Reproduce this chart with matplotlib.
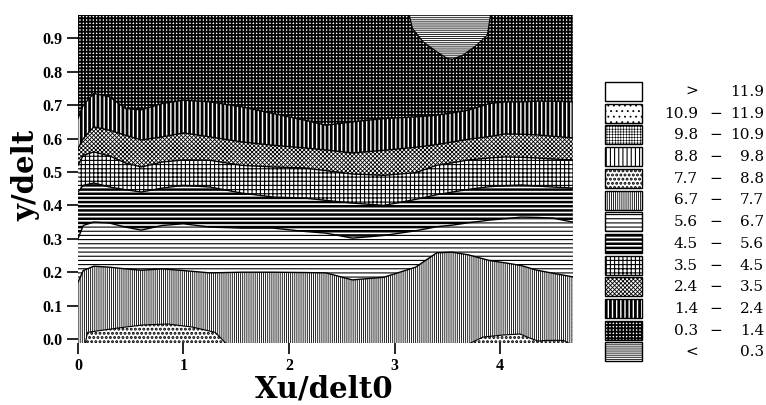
import matplotlib
matplotlib.use("Agg")
import matplotlib.pyplot as plt
from matplotlib.patches import Rectangle

# common x stations where the contour boundaries were read
x_pts = [0.0, 0.05, 0.15, 0.3, 0.45, 0.6, 0.8, 1.0, 1.25, 1.55, 1.85, 2.15, 2.35,
         2.6, 2.9, 3.2, 3.4, 3.55, 3.7, 3.9, 4.05, 4.2, 4.35, 4.5, 4.69]

# boundary curves (top to bottom)
b_03_14 = [0.66, 0.70, 0.735, 0.725, 0.69, 0.686, 0.705, 0.715, 0.71, 0.695, 0.675, 0.655, 0.64,
           0.65, 0.66, 0.665, 0.67, 0.677, 0.685, 0.705, 0.71, 0.71, 0.712, 0.712, 0.71]
b_14_24 = [0.57, 0.60, 0.635, 0.625, 0.61, 0.596, 0.605, 0.617, 0.605, 0.59, 0.58, 0.572, 0.566,
           0.557, 0.565, 0.574, 0.582, 0.59, 0.598, 0.606, 0.614, 0.613, 0.611, 0.607, 0.602]
b_24_35 = [0.52, 0.55, 0.56, 0.548, 0.527, 0.515, 0.53, 0.536, 0.535, 0.52, 0.515, 0.512, 0.504,
           0.494, 0.49, 0.498, 0.52, 0.528, 0.536, 0.542, 0.545, 0.544, 0.542, 0.539, 0.536]
b_35_45 = [0.44, 0.46, 0.467, 0.455, 0.447, 0.44, 0.452, 0.46, 0.455, 0.437, 0.425, 0.422, 0.415,
           0.407, 0.40, 0.418, 0.432, 0.44, 0.448, 0.456, 0.459, 0.461, 0.458, 0.455, 0.452]
b_45_56 = [0.30, 0.34, 0.35, 0.347, 0.335, 0.326, 0.34, 0.345, 0.335, 0.332, 0.332, 0.322, 0.317,
           0.302, 0.31, 0.324, 0.336, 0.341, 0.348, 0.356, 0.36, 0.365, 0.364, 0.362, 0.35]
b_56_67 = [0.17, 0.205, 0.218, 0.215, 0.21, 0.206, 0.21, 0.205, 0.198, 0.20, 0.20, 0.199, 0.198,
           0.177, 0.185, 0.215, 0.258, 0.26, 0.252, 0.235, 0.228, 0.22, 0.206, 0.197, 0.186]

# small islands
bump1_x = [0.07, 0.09, 0.38, 0.61, 0.85, 1.08, 1.30, 1.40]
bump1_y = [-0.012, 0.02, 0.033, 0.042, 0.045, 0.036, 0.02, -0.012]
bump2_x = [3.72, 3.84, 4.03, 4.19, 4.28, 4.36, 4.45, 4.6, 4.65]
bump2_y = [-0.012, 0.006, 0.012, 0.015, 0.003, -0.006, -0.004, -0.004, -0.012]
top_x = [3.14, 3.17, 3.27, 3.40, 3.50, 3.55, 3.65, 3.78, 3.88, 3.91]
top_y = [0.97, 0.93, 0.89, 0.86, 0.84, 0.838, 0.85, 0.88, 0.91, 0.97]

levels = [0.3, 1.4, 2.4, 3.5, 4.5, 5.6, 6.7, 7.7, 8.8, 9.8, 10.9, 11.9]

# hatch style per band, from lowest (< 0.3) to highest (> 11.9)
hatches = ['--------', '+++++', '||||', 'xxxxxxxx', '++++', '----', '----',
           '||||||||', '....', '||||', '++++++', '...', '']
hatch_lw = [0.6, 1.3, 2.0, 0.6, 0.8, 1.8, 0.8, 0.6, 1.4, 0.8, 0.4, 0.6, 0.6]

Y_BOT, Y_TOP = -0.012, 0.97


def styled(art, i):
    art.set_facecolor('white')
    art.set_edgecolor('black')
    art.set_linewidth(0)
    art.set_hatch(hatches[i])
    if hasattr(art, 'set_hatch_linewidth'):
        art.set_hatch_linewidth(hatch_lw[i])
    return art


plt.rcParams['hatch.linewidth'] = 0.8
fig = plt.figure(figsize=(7.66, 4.05), dpi=100)
ax = fig.add_axes([0.1018, 0.153, 0.646, 0.81])

# painter's order: each band filled from its upper boundary down to the bottom
styled(ax.fill_between(x_pts, b_03_14, Y_TOP), 1)
bands = [(b_03_14, 2), (b_14_24, 3), (b_24_35, 4), (b_35_45, 5), (b_45_56, 6), (b_56_67, 7)]
for curve, idx in bands:
    styled(ax.fill_between(x_pts, Y_BOT, curve), idx)
styled(ax.fill_between(bump1_x, Y_BOT, bump1_y), 8)
styled(ax.fill_between(bump2_x, Y_BOT, bump2_y), 8)
styled(ax.fill_between(top_x, top_y, Y_TOP), 0)

for curve, _ in bands:
    ax.plot(x_pts, curve, color='black', lw=1.0)
ax.plot(bump1_x, bump1_y, color='black', lw=0.8)
ax.plot(bump2_x, bump2_y, color='black', lw=0.8)
ax.plot(top_x, top_y, color='black', lw=0.8)

ax.set_xlim(0, 4.69)
ax.set_ylim(Y_BOT, Y_TOP)
for s in ax.spines.values():
    s.set_visible(False)
ax.set_xticks([0, 1, 2, 3, 4])
ax.set_xticklabels(['0', '1', '2', '3', '4'])
ax.set_yticks([0.0, 0.1, 0.2, 0.3, 0.4, 0.5, 0.6, 0.7, 0.8, 0.9])
ax.set_yticklabels(['0.0', '0.1', '0.2', '0.3', '0.4', '0.5', '0.6', '0.7', '0.8', '0.9'])
ax.tick_params(direction='out', length=8, width=1.2, color='black', pad=3)
for lab in ax.get_xticklabels() + ax.get_yticklabels():
    lab.set_fontfamily('Liberation Serif')
    lab.set_fontweight('bold')
    lab.set_fontsize(11.5)
ax.set_xlabel('Xu/delt0', fontfamily='DejaVu Serif', fontweight='bold', fontsize=21)
ax.set_ylabel('y/delt', fontfamily='DejaVu Serif', fontweight='bold', fontsize=21)
ax.xaxis.set_label_coords(0.497, -0.095)
ax.yaxis.set_label_coords(-0.076, 0.512)

# legend drawn in pixel coordinates
lg = fig.add_axes([0, 0, 1, 1], zorder=5)
lg.set_xlim(0, 766)
lg.set_ylim(405, 0)
lg.axis('off')
lg.patch.set_alpha(0)

n = len(hatches)
labels_lo = ['>'] + [f'{v:.1f}' for v in levels[::-1][1:]] + ['<']
labels_hi = [f'{levels[-1]:.1f}'] + [f'{v:.1f}' for v in levels[::-1][:-1]] + [f'{levels[0]:.1f}']
for row in range(n):
    i = n - 1 - row
    y0 = 82 + row * 21.7
    r = Rectangle((605, y0), 37, 19, facecolor='white', edgecolor='black', lw=1.0)
    r.set_hatch(hatches[i])
    if hasattr(r, 'set_hatch_linewidth'):
        r.set_hatch_linewidth(hatch_lw[i])
    lg.add_patch(r)
    yc = y0 + 10
    tk = dict(fontfamily='DejaVu Serif', fontsize=11, va='center')
    if row == 0 or row == n - 1:
        lg.text(692, yc, labels_lo[row], ha='center', **tk)
    else:
        lg.text(698, yc, labels_lo[row], ha='right', **tk)
        lg.text(716, yc, '\u2212', ha='center', **tk)
    lg.text(764, yc, labels_hi[row], ha='right', **tk)

fig.savefig('out.png', dpi=100)
